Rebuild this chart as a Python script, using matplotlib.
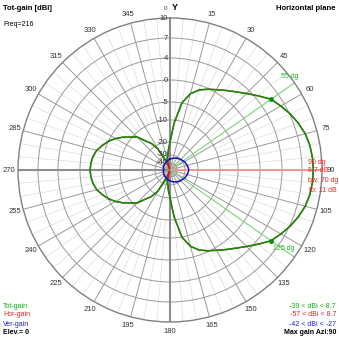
import numpy as np
import matplotlib
matplotlib.use("Agg")
import matplotlib.pyplot as plt

plt.rcParams["font.family"] = ["Liberation Sans", "DejaVu Sans"]

# ring levels (dBi) and their radius on the plot (fraction of outer circle)
RING_DB = [-60, -40, -30, -20, -10, -5, 0, 4, 7, 10]
RING_R = [0, 7, 15, 28, 50, 68, 90, 112, 132, 152]
RING_LABELS = ["-40", "-30", "-20", "-10", "-5", "0", "4", "7", "10"]

AZ_DEG = np.arange(0, 365, 5)
TOT_GAIN = [
    -20, -11.4, -5, -2.5, -1.1, -0.2, 0.5, 1.3, 2.2, 3.3, 4.5, 5.7, 6.4, 7.1,
    7.7, 8.2, 8.5, 8.65, 8.7, 8.65, 8.5, 8.2, 7.7, 7.1, 6.4, 5.7, 4.5, 3.3,
    2.2, 1.3, 0.5, -0.2, -1.1, -2.5, -5, -11.4, -20, -26, -31, -35, -39, -33,
    -22.5, -18, -15.5, -11.4, -9.7, -8, -6.4, -5, -4.1, -3.2, -2.7, -2.4,
    -2.3, -2.4, -2.7, -3.2, -4.1, -5, -6.4, -8, -9.7, -11.4, -15.5, -18,
    -22.5, -33, -39, -35, -31, -26, -20,
]
HOR_GAIN = [
    -20, -11.4, -5, -2.5, -1.1, -0.2, 0.5, 1.3, 2.2, 3.3, 4.5, 5.7, 6.4, 7.1,
    7.7, 8.2, 8.5, 8.65, 8.7, 8.65, 8.5, 8.2, 7.7, 7.1, 6.4, 5.7, 4.5, 3.3,
    2.2, 1.3, 0.5, -0.2, -1.1, -2.5, -5, -11.4, -20, -27, -33, -40, -57, -36,
    -23, -18, -15.5, -11.4, -9.7, -8, -6.4, -5, -4.1, -3.2, -2.7, -2.4,
    -2.3, -2.4, -2.7, -3.2, -4.1, -5, -6.4, -8, -9.7, -11.4, -15.5, -18,
    -23, -36, -57, -40, -33, -27, -20,
]
VER_AZ = np.arange(0, 375, 15)
VER_GAIN = [
    -35, -33.4, -31.6, -30, -28.7, -27.8, -27, -27.8, -28.7, -30, -31.6,
    -33.4, -35, -36.6, -37.9, -38.8, -39.5, -40.5, -42, -40.5, -39.5, -38.8,
    -37.9, -36.6, -35,
]
BW_AZ = [55, 125]
BW_GAIN = [5.7, 5.7]
MAX_AZ = 90

ring_r = np.array(RING_R) / 152.0


def fwd(db):
    return np.interp(db, RING_DB, ring_r)


def inv(r):
    return np.interp(r, ring_r, RING_DB)


fig = plt.figure(figsize=(3.39, 3.39), dpi=100)
ax = fig.add_axes([18 / 339, 17 / 339, 304 / 339, 304 / 339], projection="polar")
ax.set_theta_zero_location("N")
ax.set_theta_direction(-1)
ax.set_rscale("function", functions=(fwd, inv))
ax.set_rlim(-60, 10)

# grid
ax.set_rgrids(RING_DB[1:-1], labels=[""] * (len(RING_DB) - 2))
angs = np.arange(0, 360, 15)
ax.set_thetagrids(angs, labels=[("" if a == 0 else str(a)) for a in angs])
ax.grid(True, color="#9a9a9a", lw=0.7)
ax.tick_params(axis="x", labelsize=5.5, labelcolor="#333333", pad=-4)
ax.spines["polar"].set_color("#808080")
ax.spines["polar"].set_linewidth(1.0)

for a in range(0, 360, 5):
    if a % 15:
        ax.plot(np.deg2rad([a, a]), [-10, 10], color="#dddddd", lw=0.5, zorder=1)

for a in [0, 180, 270]:
    ax.plot(np.deg2rad([a, a]), [-60, 10], color="#8c8c8c", lw=1.5, zorder=2)
ax.plot(np.deg2rad([MAX_AZ, MAX_AZ]), [-60, 10], color="#ff8c8c", lw=1.2, zorder=2)
for a in BW_AZ:
    ax.plot(np.deg2rad([a, a]), [-60, 10], color="#7fd67f", lw=0.8, zorder=2)

for v, lbl in zip(RING_DB[1:], RING_LABELS):
    ax.annotate(lbl, xy=(0, v), xytext=(-1.5, 0), textcoords="offset points",
                ha="right", va="center", fontsize=5.5, color="#333333", zorder=6)

# patterns
th = np.deg2rad(AZ_DEG)
ax.plot(th, HOR_GAIN, color="#e01010", lw=1.0, zorder=3)
ax.plot(th, TOT_GAIN, color="#0a900a", lw=1.1, zorder=4)
ax.plot(np.deg2rad(VER_AZ), VER_GAIN, color="#1010c0", lw=1.1, zorder=5)
ax.plot(np.deg2rad(BW_AZ), BW_GAIN, "o", color="#0a900a", ms=2.5, zorder=5)

# texts
def ftext(x, y, s, **kw):
    fig.text(x / 339, 1 - y / 339, s, va="center", **kw)

ftext(3, 8, "Tot-gain [dBi]", fontsize=5.5, fontweight="bold")
ftext(3, 24, "Freq=216", fontsize=5)
ftext(336, 8, "Horizontal plane", fontsize=5.5, fontweight="bold", ha="right")
ftext(165, 8, "0", fontsize=4.5, ha="center", color="#333333")
ftext(175, 8, "Y", fontsize=6.5, ha="center", fontweight="bold")

ftext(290, 77, "55 dg", fontsize=5, color="#1fb81f", ha="center")
ftext(284, 248, "125 dg", fontsize=5, color="#1fb81f", ha="center")
ftext(308, 162, "90 dg", fontsize=5, color="#ff2020")
ftext(308, 170, "8.7 dB", fontsize=5, color="#ff2020")
ftext(308, 180, "bw: 70 dg", fontsize=5, color="#ff2020")
ftext(309, 190, "fb: 11 dB", fontsize=5, color="#ff2020")

ftext(3, 306, "Tot-gain", fontsize=5, color="#10b010")
ftext(3, 315, "Hor-gain", fontsize=5, color="#e02020")
ftext(3, 324, "Ver-gain", fontsize=5, color="#2020d0")
ftext(3, 333, "Elev.= 0", fontsize=5, fontweight="bold")
ftext(336, 306, "-39 < dBi < 8.7", fontsize=5, color="#10b010", ha="right")
ftext(336, 315, "-57 < dBi < 8.7", fontsize=5, color="#e02020", ha="right")
ftext(336, 324, "-42 < dBi < -27", fontsize=5, color="#2020d0", ha="right")
ftext(336, 333, "Max gain Azi:90", fontsize=5, fontweight="bold", ha="right")

fig.savefig("out.png", dpi=100)
